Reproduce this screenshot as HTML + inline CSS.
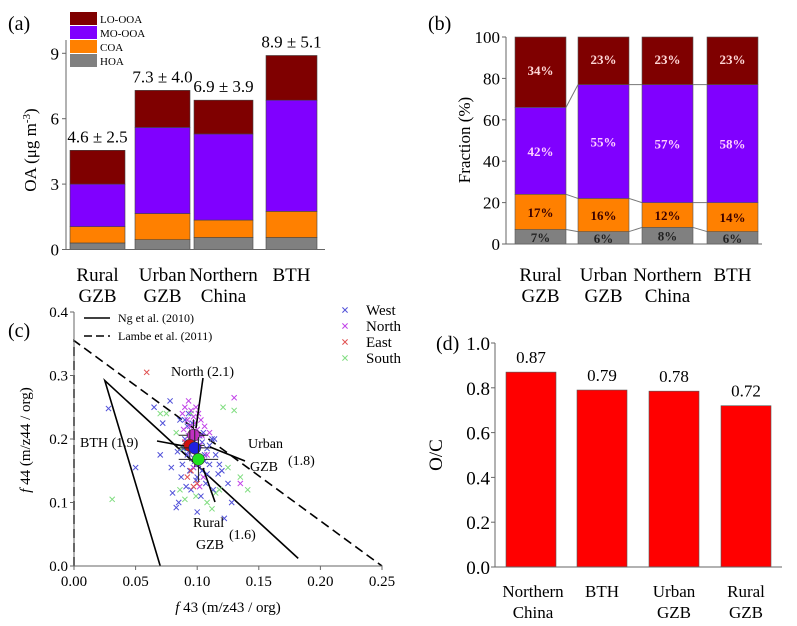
<!DOCTYPE html>
<html><head><meta charset="utf-8"><style>
html,body{margin:0;padding:0;background:#fff}
svg{display:block}
svg text{font-family:"Liberation Serif","DejaVu Serif",serif}
</style></head><body>
<svg id="fig" width="797" height="626" viewBox="0 0 797 626" xmlns="http://www.w3.org/2000/svg" font-family="Liberation Serif, serif">
<g id="pa"></g>
<g id="pb"></g>
<g id="pc"></g>
<g id="pd"></g>
</svg>
<script>
// ---- data ----
const catsA = [["Rural","GZB"],["Urban","GZB"],["Northern","China"],["BTH"]];
const hoaA = [0.3,0.45,0.55,0.55];
const coaA = [0.75,1.2,0.8,1.2];
const moA = [1.95,3.95,3.95,5.1];
const loA = [1.55,1.7,1.55,2.05];
const totLabelsA = ["4.6 ± 2.5","7.3 ± 4.0","6.9 ± 3.9","8.9 ± 5.1"];
const ticksA = [0,3,6,9];

const hoaB = [7,6,8,6];
const coaB = [17,16,12,14];
const moB = [42,55,57,57];
const loB = [34,23,23,23];
const moLabB = ["42%","55%","57%","58%"];
const ticksB = [0,20,40,60,80,100];

const catsD = [["Northern","China"],["BTH"],["Urban","GZB"],["Rural","GZB"]];
const ocD = [0.87,0.79,0.785,0.72];
const ocLabD = ["0.87","0.79","0.78","0.72"];
const ticksD = [0,0.2,0.4,0.6,0.8,1.0];

const ticksCX = [0,0.05,0.10,0.15,0.20,0.25];
const ticksCY = [0,0.1,0.2,0.3,0.4];
const westX = [0.028,0.05,0.07,0.078,0.08,0.083,0.085,0.087,0.088,0.09,0.09,0.092,0.093,0.094,0.095,0.096,0.097,0.098,0.099,0.1,0.1,0.101,0.102,0.103,0.104,0.105,0.106,0.107,0.108,0.11,0.112,0.113,0.115,0.118,0.12,0.122,0.125,0.128,0.065,0.072,0.086,0.091,0.095,0.099,0.103,0.108,0.11,0.089,0.093,0.097,0.102,0.106,0.084,0.114,0.117,0.079,0.1,0.096,0.092,0.104];
const westY = [0.248,0.155,0.175,0.26,0.115,0.092,0.1,0.14,0.16,0.2,0.23,0.22,0.18,0.15,0.19,0.21,0.17,0.165,0.2,0.18,0.14,0.16,0.19,0.17,0.15,0.21,0.175,0.13,0.185,0.16,0.2,0.12,0.175,0.16,0.15,0.075,0.13,0.1,0.25,0.225,0.23,0.125,0.12,0.135,0.11,0.145,0.19,0.185,0.24,0.155,0.205,0.165,0.18,0.2,0.145,0.155,0.085,0.225,0.175,0.195];
const northX = [0.088,0.09,0.092,0.093,0.094,0.095,0.096,0.097,0.098,0.099,0.1,0.101,0.102,0.103,0.104,0.106,0.108,0.091,0.095,0.099,0.1,0.097,0.093,0.105,0.13,0.135,0.11,0.089,0.096,0.102];
const northY = [0.24,0.25,0.23,0.26,0.22,0.245,0.21,0.235,0.225,0.2,0.215,0.24,0.19,0.23,0.205,0.22,0.175,0.195,0.18,0.25,0.16,0.155,0.205,0.14,0.265,0.13,0.21,0.215,0.19,0.125];
const eastX = [0.059,0.092,0.097,0.1,0.09,0.095];
const eastY = [0.305,0.14,0.125,0.13,0.195,0.15];
const southX = [0.031,0.07,0.075,0.083,0.086,0.09,0.112,0.115,0.118,0.121,0.125,0.13,0.135,0.141,0.108,0.095,0.088,0.099];
const southY = [0.105,0.24,0.24,0.21,0.12,0.105,0.09,0.115,0.12,0.25,0.155,0.245,0.14,0.12,0.1,0.24,0.185,0.11];
const meanNames = ["North","BTH","Urban GZB","Rural GZB"];
const meanX = [0.097,0.094,0.098,0.101];
const meanY = [0.206,0.19,0.186,0.168];
const meanErrX = [0.012,0.012,0.014,0.016];
const meanErrY = [0.025,0.025,0.03,0.035];

// ---- helpers ----
const NS="http://www.w3.org/2000/svg";
function mk(parent,tag,attrs,text){const e=document.createElementNS(NS,tag);for(const k in attrs)e.setAttribute(k,attrs[k]);if(tag==='text')e.setAttribute('font-family','Liberation Serif, DejaVu Serif, serif');if(text!==undefined)e.textContent=text;parent.appendChild(e);return e;}
const C_LO="#7f0000",C_MO="#8000ff",C_COA="#ff8000",C_HOA="#808080";

// ---- panel a ----
(function(){
const g=document.getElementById('pa');
const x0=66,x1=325,y0=249.5,sc=21.8;
const Y=v=>y0-v*sc;
const bx=[70,135,194,266],bw=[55,55,59,51];
let t=mk(g,'text',{x:8,y:30,'font-size':20});t.textContent='(a)';

for(let i=0;i<4;i++){
 const segs=[[hoaA[i],C_HOA,'hoa'],[coaA[i],C_COA,'coa'],[moA[i],C_MO,'mo-ooa'],[loA[i],C_LO,'lo-ooa']];
 let base=0;
 segs.forEach(s=>{const r=mk(g,'rect',{x:bx[i],y:Y(base+s[0]),width:bw[i],height:s[0]*sc,fill:s[1],stroke:'#444','stroke-width':0.6});
  base+=s[0];});
 const tl=mk(g,'text',{x:bx[i]+bw[i]/2,y:Y(base)-8,'font-size':17,'text-anchor':'middle'},totLabelsA[i]);
 
 catsA[i].forEach((s,j)=>{const c=mk(g,'text',{x:bx[i]+bw[i]/2,y:(catsA[i].length==1?281:281+j*21),'font-size':19,'text-anchor':'middle'},s);
  });
}
mk(g,'line',{x1:x0,y1:y0,x2:x1,y2:y0,stroke:'#666','stroke-width':1});
mk(g,'line',{x1:x0,y1:y0,x2:x0,y2:40,stroke:'#666','stroke-width':1});
ticksA.forEach(v=>{mk(g,'line',{x1:x0-4,y1:Y(v),x2:x0,y2:Y(v),stroke:'#666'});
 const tt=mk(g,'text',{x:x0-7,y:Y(v)+6,'font-size':17,'text-anchor':'end'},String(v));
 });
const yl=mk(g,'text',{transform:'translate(36,150) rotate(-90)','font-size':17,'text-anchor':'middle'});
yl.innerHTML='OA (μg m<tspan dy="-6" font-size="11">-3</tspan><tspan dy="6">)</tspan>';

const leg=[['LO-OOA',C_LO],['MO-OOA',C_MO],['COA',C_COA],['HOA',C_HOA]];
leg.forEach((l,i)=>{const r=mk(g,'rect',{x:70,y:12+i*14,width:27,height:13,fill:l[1]});
 
 const lt=mk(g,'text',{x:100,y:23+i*14,'font-size':11},l[0]);
 });
})();

// ---- panel b ----
(function(){
const g=document.getElementById('pb');
const x0=506,x1=762,y0=244,sc=2.07;
const Y=v=>y0-v*sc;
const bx=[515,578,642,707],bw=51;
let t=mk(g,'text',{x:428,y:30,'font-size':20},'(b)');

const tops=[];
for(let i=0;i<4;i++){
 const segs=[[hoaB[i],C_HOA,'hoa',hoaB[i]+'%','#222'],[coaB[i],C_COA,'coa',coaB[i]+'%','#3a0000'],[moB[i],C_MO,'mo-ooa',moLabB[i],'#ffd0ff'],[100-hoaB[i]-coaB[i]-moB[i],C_LO,'lo-ooa',loB[i]+'%','#ffd8d8']];
 let base=0;const bnd=[];
 segs.forEach(s=>{const r=mk(g,'rect',{x:bx[i],y:Y(base+s[0]),width:bw,height:s[0]*sc,fill:s[1],stroke:'#555','stroke-width':0.6});
  
  const lbl=mk(g,'text',{x:bx[i]+bw/2,y:(s[2]=='lo-ooa'?Y(100)+27+(i==0?11:0):Y(base+s[0]/2)+5),'font-size':13,'text-anchor':'middle',fill:s[4],'font-weight':'bold'},s[3]);
  
  base+=s[0];bnd.push(base);});
 tops.push(bnd);
 catsA[i].forEach((s,j)=>{const c=mk(g,'text',{x:bx[i]+bw/2,y:281+j*21,'font-size':19,'text-anchor':'middle'},s);
  });
}
for(let i=0;i<3;i++)for(let k=0;k<3;k++)mk(g,'line',{x1:bx[i]+bw,y1:Y(tops[i][k]),x2:bx[i+1],y2:Y(tops[i+1][k]),stroke:'#777','stroke-width':1});
mk(g,'line',{x1:x0,y1:y0,x2:x1,y2:y0,stroke:'#666'});
mk(g,'line',{x1:x0,y1:y0,x2:x0,y2:Y(100),stroke:'#666'});
ticksB.forEach(v=>{mk(g,'line',{x1:x0-4,y1:Y(v),x2:x0,y2:Y(v),stroke:'#666'});
 const tt=mk(g,'text',{x:x0-6,y:Y(v)+6,'font-size':17,'text-anchor':'end'},String(v));
 });
const yl=mk(g,'text',{transform:'translate(470,140) rotate(-90)','font-size':17,'text-anchor':'middle'},'Fraction (%)');

})();

// ---- panel c ----
(function(){
const g=document.getElementById('pc');
const X=v=>74+v*1232, Y=v=>566-v*635;
let t=mk(g,'text',{x:8,y:337,'font-size':20},'(c)');

mk(g,'polyline',{points:`${X(0)},${Y(0)} ${X(0)},${Y(0.355)} ${X(0.25)},${Y(0)}`,fill:'none',stroke:'#000','stroke-width':1.6,'stroke-dasharray':'9,5'});
mk(g,'polyline',{points:`${X(0.07)},${Y(0)} ${X(0.025)},${Y(0.292)} ${X(0.182)},${Y(0.012)}`,fill:'none',stroke:'#000','stroke-width':1.6});
function cross(x,y,col,name){const s=2.6;const p=mk(g,'path',{d:`M${X(x)-s},${Y(y)-s}L${X(x)+s},${Y(y)+s}M${X(x)-s},${Y(y)+s}L${X(x)+s},${Y(y)-s}`,stroke:col,'stroke-width':1,fill:'none'});
 }
southX.forEach((x,i)=>cross(x,southY[i],'#80dd80','point-south'));
westX.forEach((x,i)=>cross(x,westY[i],'#5050d8','point-west'));
northX.forEach((x,i)=>cross(x,northY[i],'#c040e8','point-north'));
eastX.forEach((x,i)=>cross(x,eastY[i],'#e05050','point-east'));
const mcol=['#c030c0','#d01010','#2020e0','#20e020'];
meanX.forEach((x,i)=>{
 mk(g,'line',{x1:X(x-meanErrX[i]),y1:Y(meanY[i]),x2:X(x+meanErrX[i]),y2:Y(meanY[i]),stroke:'#222','stroke-width':1});
 mk(g,'line',{x1:X(x),y1:Y(meanY[i]-meanErrY[i]),x2:X(x),y2:Y(meanY[i]+meanErrY[i]),stroke:'#222','stroke-width':1});
 const c=mk(g,'circle',{cx:X(x),cy:Y(meanY[i]),r:6,fill:mcol[i],stroke:'#333','stroke-width':0.6});
 });
const ann=[[203,378,196,428],[157,441,184,446],[245,461,210,447],[215,502,203,468]];
ann.forEach(a=>mk(g,'line',{x1:a[0],y1:a[1],x2:a[2],y2:a[3],stroke:'#000','stroke-width':1.6}));
const txts=[['North (2.1)',171,376],['BTH (1.9)',80,447],['Urban',248,448],['GZB',250,471],['(1.8)',288,465],['Rural',193,527],['GZB',196,549],['(1.6)',229,539]];
txts.forEach(s=>{const e=mk(g,'text',{x:s[1],y:s[2],'font-size':14},s[0]);});
mk(g,'line',{x1:X(0),y1:Y(0),x2:X(0.25),y2:Y(0),stroke:'#666'});
mk(g,'line',{x1:X(0),y1:Y(0),x2:X(0),y2:Y(0.4),stroke:'#666'});
ticksCX.forEach(v=>{mk(g,'line',{x1:X(v),y1:Y(0),x2:X(v),y2:Y(0)+4,stroke:'#666'});
 const tt=mk(g,'text',{x:X(v),y:586,'font-size':15,'text-anchor':'middle'},v.toFixed(2));
 });
ticksCY.forEach(v=>{mk(g,'line',{x1:X(0)-4,y1:Y(v),x2:X(0),y2:Y(v),stroke:'#666'});
 const tt=mk(g,'text',{x:X(0)-6,y:Y(v)+5,'font-size':15,'text-anchor':'end'},v.toFixed(1));
 });
const xl=mk(g,'text',{x:228,y:612,'font-size':15,'text-anchor':'middle'});xl.innerHTML='<tspan font-style="italic">f</tspan> 43 (m/z43 / org)';

const yl=mk(g,'text',{transform:'translate(30,440) rotate(-90)','font-size':15,'text-anchor':'middle'});yl.innerHTML='<tspan font-style="italic">f</tspan> 44 (m/z44 / org)';

mk(g,'line',{x1:84,y1:318,x2:110,y2:318,stroke:'#000','stroke-width':1.6});
let e=mk(g,'text',{x:118,y:322,'font-size':12},'Ng et al. (2010)');
mk(g,'line',{x1:84,y1:336,x2:110,y2:336,stroke:'#000','stroke-width':1.6,'stroke-dasharray':'8,4'});
e=mk(g,'text',{x:118,y:340,'font-size':12},'Lambe et al. (2011)');
[['West','#5050d8'],['North','#c040e8'],['East','#e05050'],['South','#80dd80']].forEach((l,i)=>{
 const y=310+i*16,s=2.6;
 mk(g,'path',{d:`M${345-s},${y-s}L${345+s},${y+s}M${345-s},${y+s}L${345+s},${y-s}`,stroke:l[1],fill:'none'});
 const t=mk(g,'text',{x:366,y:y+5,'font-size':15},l[0]);});
})();

// ---- panel d ----
(function(){
const g=document.getElementById('pd');
const x0=495,x1=782,y0=567,sc=224;
const Y=v=>y0-v*sc;
const bx=[506,577,649,721],bw=50;
let t=mk(g,'text',{x:436,y:350,'font-size':20},'(d)');

ocD.forEach((v,i)=>{const r=mk(g,'rect',{x:bx[i],y:Y(v),width:bw,height:v*sc,fill:'#ff0000',stroke:'#555','stroke-width':0.6});
 
 const l=mk(g,'text',{x:bx[i]+bw/2,y:Y(v)-9,'font-size':17,'text-anchor':'middle'},ocLabD[i]);
 
 catsD[i].forEach((s,j)=>{const c=mk(g,'text',{x:bx[i]+bw/2+(i==0?2:0),y:597+j*21,'font-size':17,'text-anchor':'middle'},s);
  });
});
mk(g,'line',{x1:x0,y1:y0,x2:x1,y2:y0,stroke:'#666'});
mk(g,'line',{x1:x0,y1:y0,x2:x0,y2:Y(1),stroke:'#666'});
ticksD.forEach(v=>{mk(g,'line',{x1:x0-4,y1:Y(v),x2:x0,y2:Y(v),stroke:'#666'});
 const tt=mk(g,'text',{x:x0-5,y:Y(v)+7,'font-size':19,'text-anchor':'end'},v.toFixed(1));
 });
const yl=mk(g,'text',{transform:'translate(442,455) rotate(-90)','font-size':19,'text-anchor':'middle'},'O/C');

})();
</script>
</body></html>
